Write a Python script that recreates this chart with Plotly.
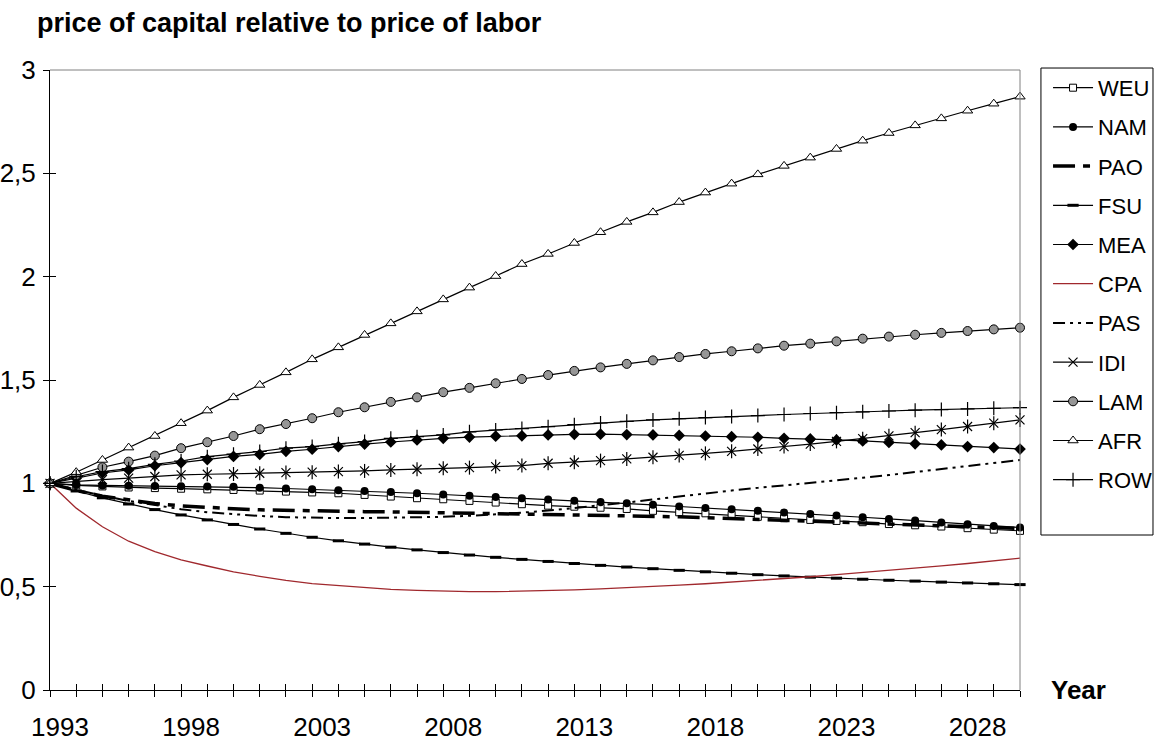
import plotly.graph_objects as go

years = list(range(1993, 2031))
label_years = [1993, 1998, 2003, 2008, 2013, 2018, 2023, 2028]
tick_text = [str(y) if y in label_years else "" for y in years]
y_ticks = [0, 0.5, 1, 1.5, 2, 2.5, 3]

WEU = [1.0, 0.99, 0.985, 0.98, 0.977, 0.974, 0.971, 0.968, 0.965, 0.96, 0.956,
       0.952, 0.944, 0.936, 0.928, 0.923, 0.915, 0.907, 0.899, 0.892, 0.887,
       0.882, 0.876, 0.867, 0.860, 0.855, 0.847, 0.838, 0.831, 0.823, 0.818,
       0.812, 0.803, 0.797, 0.791, 0.783, 0.776, 0.770]
NAM = [1.0, 0.993, 0.99, 0.988, 0.987, 0.986, 0.985, 0.983, 0.979, 0.975, 0.971,
       0.967, 0.963, 0.958, 0.952, 0.946, 0.940, 0.934, 0.928, 0.922, 0.916,
       0.910, 0.904, 0.896, 0.888, 0.881, 0.874, 0.867, 0.859, 0.852, 0.844,
       0.836, 0.828, 0.820, 0.811, 0.802, 0.794, 0.786]
PAO = [1.0, 0.965, 0.938, 0.918, 0.902, 0.891, 0.882, 0.877, 0.872, 0.869, 0.866,
       0.865, 0.863, 0.862, 0.860, 0.858, 0.857, 0.855, 0.853, 0.852, 0.850,
       0.848, 0.846, 0.842, 0.838, 0.834, 0.830, 0.826, 0.822, 0.818, 0.814,
       0.810, 0.806, 0.801, 0.796, 0.791, 0.786, 0.781]
FSU = [1.0, 0.963, 0.93, 0.90, 0.873, 0.847, 0.823, 0.801, 0.779, 0.758, 0.739,
       0.722, 0.706, 0.691, 0.678, 0.665, 0.653, 0.642, 0.632, 0.622, 0.612,
       0.603, 0.595, 0.587, 0.579, 0.572, 0.565, 0.558, 0.552, 0.546, 0.541,
       0.536, 0.531, 0.527, 0.522, 0.518, 0.514, 0.510]
MEA = [1.0, 1.025, 1.05, 1.065, 1.085, 1.10, 1.115, 1.13, 1.14, 1.155, 1.165,
       1.178, 1.19, 1.20, 1.21, 1.218, 1.224, 1.228, 1.23, 1.234, 1.237,
       1.238, 1.236, 1.234, 1.232, 1.229, 1.226, 1.223, 1.218, 1.215, 1.210,
       1.205, 1.198, 1.191, 1.186, 1.178, 1.173, 1.166]
CPA = [1.0, 0.88, 0.79, 0.72, 0.67, 0.63, 0.60, 0.572, 0.55, 0.53, 0.515,
       0.505, 0.495, 0.487, 0.482, 0.478, 0.476, 0.476, 0.478, 0.480, 0.484,
       0.489, 0.494, 0.500, 0.507, 0.514, 0.522, 0.530, 0.539, 0.548, 0.558,
       0.568, 0.579, 0.590, 0.601, 0.612, 0.624, 0.638]
PAS = [1.0, 0.97, 0.94, 0.915, 0.895, 0.875, 0.86, 0.85, 0.842, 0.836, 0.833,
       0.832, 0.832, 0.833, 0.835, 0.838, 0.843, 0.850, 0.858, 0.868, 0.880,
       0.893, 0.907, 0.922, 0.937, 0.952, 0.965, 0.978, 0.990, 1.000, 1.012,
       1.027, 1.040, 1.054, 1.068, 1.083, 1.098, 1.113]
IDI = [1.0, 1.01, 1.018, 1.025, 1.033, 1.041, 1.044, 1.045, 1.049, 1.052, 1.054,
       1.057, 1.060, 1.065, 1.068, 1.073, 1.076, 1.081, 1.086, 1.097, 1.102,
       1.110, 1.118, 1.126, 1.135, 1.145, 1.155, 1.166, 1.178, 1.190, 1.203,
       1.216, 1.230, 1.245, 1.260, 1.275, 1.291, 1.307]
LAM = [1.0, 1.04, 1.078, 1.105, 1.134, 1.170, 1.199, 1.229, 1.262, 1.287, 1.315,
       1.344, 1.368, 1.394, 1.416, 1.441, 1.462, 1.484, 1.505, 1.524, 1.544,
       1.561, 1.578, 1.595, 1.611, 1.626, 1.639, 1.653, 1.666, 1.676, 1.687,
       1.700, 1.710, 1.719, 1.728, 1.737, 1.745, 1.753]
AFR = [1.0, 1.054, 1.113, 1.173, 1.229, 1.291, 1.352, 1.416, 1.476, 1.537, 1.600,
       1.658, 1.718, 1.774, 1.832, 1.890, 1.947, 2.003, 2.061, 2.110, 2.163,
       2.215, 2.265, 2.311, 2.361, 2.407, 2.450, 2.495, 2.536, 2.576, 2.618,
       2.658, 2.695, 2.732, 2.766, 2.803, 2.837, 2.871]
ROW = [1.0, 1.032, 1.057, 1.071, 1.092, 1.108, 1.129, 1.141, 1.154, 1.170, 1.178,
       1.191, 1.202, 1.218, 1.226, 1.234, 1.249, 1.258, 1.265, 1.274, 1.284,
       1.292, 1.300, 1.307, 1.313, 1.318, 1.323, 1.328, 1.333, 1.338, 1.342,
       1.346, 1.350, 1.354, 1.357, 1.360, 1.363, 1.366]

FONT = "Liberation Sans, Arial, sans-serif"
BLACK = "#000000"

fig = go.Figure()


def add(name, vals, line, marker=None, showlegend=True):
    mode = "lines+markers" if marker else "lines"
    fig.add_trace(go.Scatter(
        x=years, y=vals, name=name, mode=mode, line=line,
        marker=marker, legendgroup=name, showlegend=showlegend,
        cliponaxis=False, hoverinfo="x+y+name"))


thin = dict(color=BLACK, width=1.2)
add("WEU", WEU, thin, dict(symbol="square", size=7, color="white",
                           line=dict(color=BLACK, width=1)))
add("NAM", NAM, thin, dict(symbol="circle", size=8, color=BLACK,
                           line=dict(color=BLACK, width=0)))
add("PAO", PAO, dict(color=BLACK, width=3.5, dash="22px,8px,7px,8px"))
add("FSU", FSU, thin, dict(symbol="line-ew", size=8, color=BLACK,
                           line=dict(color=BLACK, width=3)))
add("MEA", MEA, thin, dict(symbol="diamond", size=9, color=BLACK,
                           line=dict(color=BLACK, width=0)))
add("CPA", CPA, dict(color="#A0282D", width=1.3))
add("PAS", PAS, dict(color=BLACK, width=2, dash="12px,5px,3px,5px,3px,5px"))
add("IDI", IDI, thin, dict(symbol="x-thin-open", size=9, color=BLACK,
                           line=dict(color=BLACK, width=1.2)))
fig.add_trace(go.Scatter(
    x=years, y=IDI, mode="markers", legendgroup="IDI", showlegend=False,
    cliponaxis=False, hoverinfo="skip",
    marker=dict(symbol="line-ns-open", size=10, color=BLACK,
                line=dict(color=BLACK, width=1.2))))
add("LAM", LAM, thin, dict(symbol="circle", size=9, color="#969696",
                           line=dict(color=BLACK, width=1)))
add("AFR", AFR, thin, dict(symbol="triangle-up", size=9, color="white",
                           line=dict(color=BLACK, width=1)))
add("ROW", ROW, thin, dict(symbol="cross-thin-open", size=10, color=BLACK,
                           line=dict(color=BLACK, width=1.2)))

# dummy trace to host the overlay axes that give crossing ticks
fig.add_trace(go.Scatter(x=[None], y=[None], xaxis="x2", yaxis="y2",
                         showlegend=False, hoverinfo="skip"))

axis_common = dict(showgrid=False, zeroline=False, color=BLACK,
                   automargin=False)

fig.update_layout(
    width=1160, height=745,
    margin=dict(l=50, r=140, t=70, b=55, autoexpand=False),
    paper_bgcolor="white", plot_bgcolor="white",
    font=dict(family=FONT, color=BLACK, size=26),
    separators=",.",
    showlegend=True,
    xaxis=dict(range=[1993, 2030], tickmode="array", tickvals=years,
               ticktext=tick_text, ticks="outside", ticklen=6,
               tickcolor=BLACK, tickwidth=1, showline=True, linecolor=BLACK,
               linewidth=1, tickfont=dict(size=26), ticklabelshift=10,
               ticklabelstandoff=8, **axis_common),
    xaxis2=dict(range=[1993, 2030], overlaying="x", anchor="y2", side="bottom",
                tickmode="array", tickvals=years, ticks="inside", ticklen=6,
                tickcolor=BLACK, showticklabels=False, showline=False,
                **axis_common),
    yaxis=dict(range=[0, 3], tickmode="array", tickvals=y_ticks,
               ticks="outside", ticklen=6, tickcolor=BLACK, showline=True,
               linecolor=BLACK, linewidth=1, tickfont=dict(size=26),
               ticklabelstandoff=2, **axis_common),
    yaxis2=dict(range=[0, 3], overlaying="y", anchor="x2", side="left",
                tickmode="array", tickvals=y_ticks, ticks="inside", ticklen=6,
                tickcolor=BLACK, showticklabels=False, showline=False,
                **axis_common),
    legend=dict(x=1.0289, y=1.005, xanchor="left", yanchor="top",
                borderwidth=0, bgcolor="rgba(0,0,0,0)",
                font=dict(size=22, family=FONT, color=BLACK),
                itemwidth=40, tracegroupgap=7.6, traceorder="grouped",
                maxheight=640),
    shapes=[
        dict(type="line", xref="paper", yref="paper", x0=0, x1=1, y0=1, y1=1,
             line=dict(color="#808080", width=1)),
        dict(type="line", xref="paper", yref="paper", x0=1, x1=1, y0=0, y1=1,
             line=dict(color="#808080", width=1)),
        # legend frame
        dict(type="rect", xref="paper", yref="paper", x0=1.0216, x1=1.1371,
             y0=0.25, y1=1.0032, line=dict(color=BLACK, width=1),
             fillcolor="rgba(0,0,0,0)", layer="below"),
    ],
    annotations=[
        dict(text="<b>price of capital relative to price of labor</b>",
             xref="paper", yref="paper", x=-0.0155, y=1.0758,
             xanchor="left", yanchor="middle", showarrow=False,
             font=dict(size=27, family=FONT, color=BLACK)),
        dict(text="<b>Year</b>", xref="paper", yref="paper", x=1.0608, y=0,
             xanchor="center", yanchor="middle", showarrow=False,
             font=dict(size=26, family=FONT, color=BLACK)),
    ],
)

# remove the page's default 8px body margin so the figure fills the window
fig.write_html("out.html",
               config={"displayModeBar": False},
               post_script="document.body.style.margin='0px';")
